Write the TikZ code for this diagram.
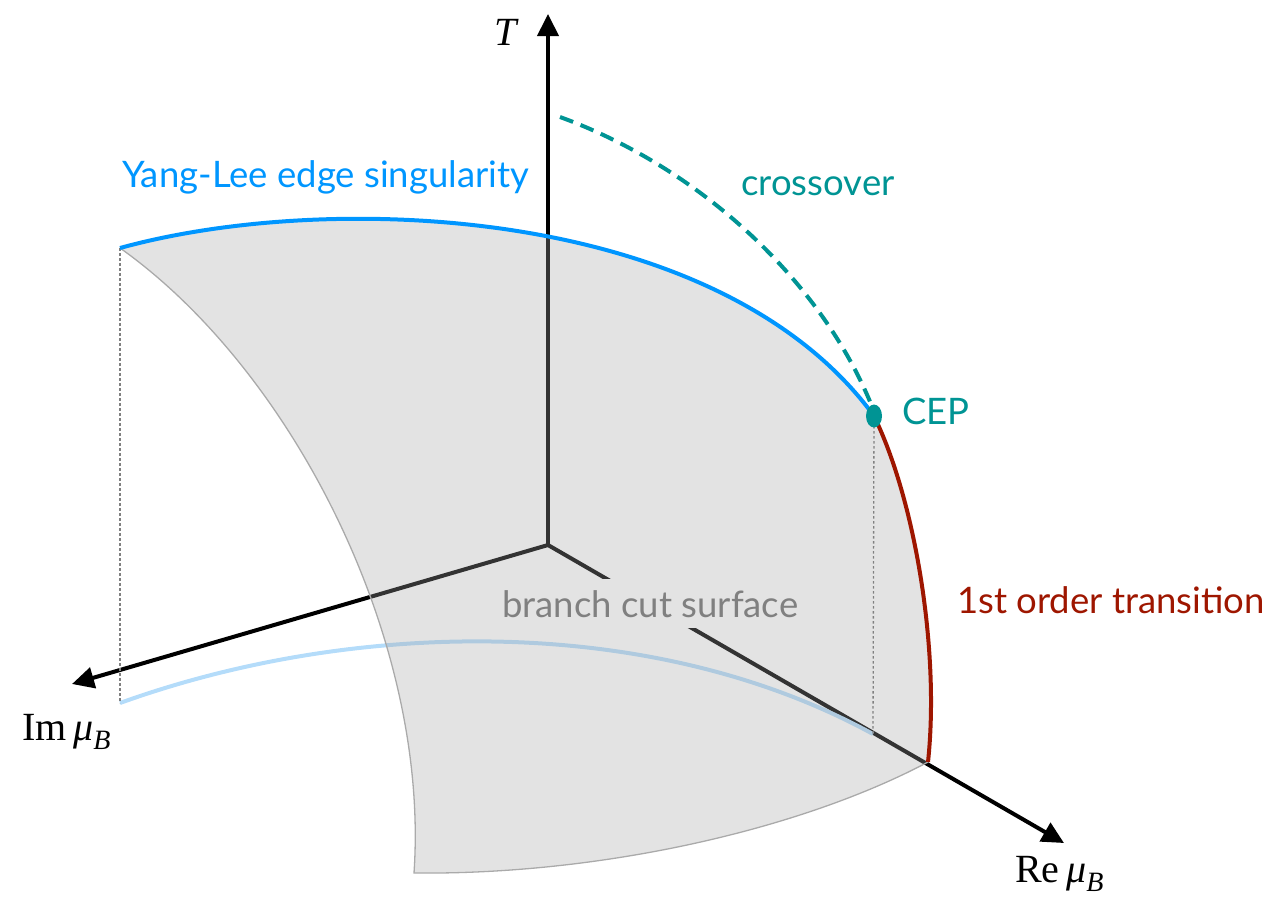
\documentclass[tikz,border=0pt]{standalone}
\usepackage{fontspec}
\newfontfamily\labelfont{Lato}
\newfontfamily\timesfont{Liberation Serif}
\usetikzlibrary{arrows.meta}
\definecolor{ylblue}{RGB}{0,150,255}
\definecolor{lightyl}{RGB}{180,220,250}
\definecolor{cepteal}{RGB}{0,148,148}
\definecolor{firstred}{RGB}{158,22,0}
\definecolor{surfgray}{RGB}{165,165,165}
\definecolor{surfblend}{RGB}{227,227,227}
\definecolor{edgegray}{RGB}{170,170,170}
\definecolor{cutgray}{RGB}{128,128,128}
\tikzset{
  axisline/.style={line width=4pt, -{Triangle[length=22pt,width=21pt]}},
  curveline/.style={line width=4pt},
  dropline/.style={draw=gray, line width=1.3pt, dash pattern=on 2.5pt off 2.5pt},
  sanslabel/.style={font=\labelfont\fontsize{36.5}{42}\selectfont, inner sep=0pt, anchor=base west},
  seriflabel/.style={font=\timesfont\fontsize{40}{46}\selectfont, inner sep=0pt, anchor=base west}
}
\begin{document}
\begin{tikzpicture}[x=1pt,y=-1pt]
\useasboundingbox (0,0) rectangle (1274,898);
\coordinate (O) at (548,545);
\coordinate (Ttip) at (548,14);
\coordinate (Imtip) at (72,684);
\coordinate (Retip) at (1064,843);
\coordinate (YL0) at (120,248);
\coordinate (CEP) at (874,416);
\coordinate (R1) at (928,762);
\coordinate (B0) at (414,873);
\coordinate (LB0) at (120,703);
\coordinate (LB1) at (873,734);
\coordinate (CR0) at (560,117);
\coordinate (CR1) at (871,404);

% axes
\draw[axisline] (O) -- (Ttip);
\draw[axisline] (O) -- (Imtip);
\draw[axisline] (O) -- (Retip);

% light blue projected curve
\draw[curveline, lightyl] (LB0) .. controls (350,620) and (650,612) .. (LB1);

% surface
\fill[surfgray, fill opacity=0.31]
  (YL0) .. controls (330,190) and (720,205) .. (CEP)
  .. controls (915,500) and (940,650) .. (R1)
  .. controls (800,830) and (600,875) .. (B0)
  .. controls (430,640) and (292,370) .. (YL0) -- cycle;
\draw[edgegray, line width=1.3pt] (R1) .. controls (800,830) and (600,875) .. (B0)
  .. controls (430,640) and (292,370) .. (YL0);

% drop lines
\draw[dropline] (YL0) -- (LB0);
\draw[dropline] (CEP) -- (LB1);

% Yang-Lee and first-order curves
\draw[curveline, ylblue] (YL0) .. controls (330,190) and (720,205) .. (CEP);
\draw[curveline, firstred] (CEP) .. controls (915,500) and (940,650) .. (R1);

% crossover
\draw[cepteal, line width=4pt, dash pattern=on 14pt off 8pt] (CR0) .. controls (700,168) and (820,280) .. (CR1);

% CEP
\fill[cepteal] (CEP) ellipse [x radius=8pt, y radius=11.5pt];

% labels
\node[sanslabel, text=ylblue] (yl) at (122,187) {Yang-Lee edge singularity};
\node[sanslabel, text=cepteal] (cr) at (741,195) {crossover};
\node[sanslabel, text=cepteal] (cep) at (902,424) {CEP};
\node[sanslabel, text=firstred] (fo) at (957,613) {1st order transition};
\node[sanslabel, text=cutgray, fill=surfblend, inner xsep=2pt, inner ysep=11pt] (bc) at (500,617) {branch cut surface};
\node[seriflabel] (tl) at (494,45) {\itshape T};
\node[seriflabel] (iml) at (22,740) {Im\,{\itshape μ}\textsubscript{\itshape B}};
\node[seriflabel] (rel) at (1015,882) {Re\,{\itshape μ}\textsubscript{\itshape B}};
\end{tikzpicture}
\end{document}
